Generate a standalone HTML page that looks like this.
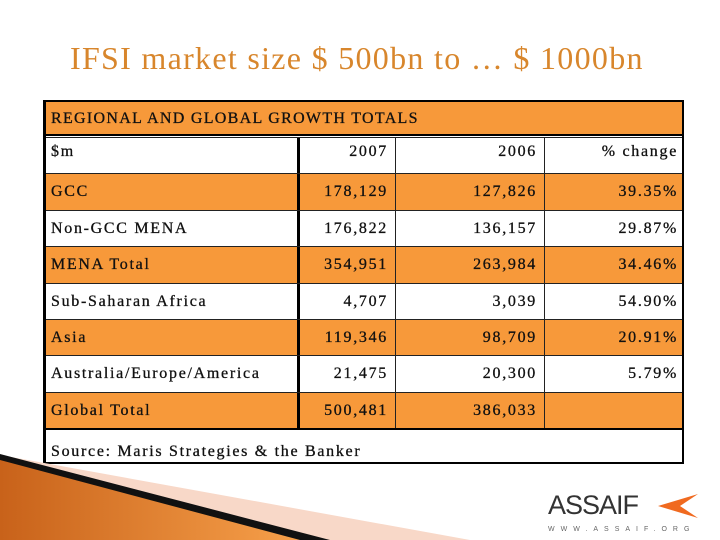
<!DOCTYPE html>
<html><head><meta charset="utf-8">
<style>
body{margin:0;width:720px;height:540px;background:#fff;position:relative;overflow:hidden;font-family:"Liberation Serif","DejaVu Serif",serif;}
#title{position:absolute;left:70px;top:40px;font-size:32px;color:#d8862c;white-space:nowrap;letter-spacing:1.3px;}
#tbl{position:absolute;left:43px;top:100px;width:641px;height:364px;border:2px solid #000;border-left-width:3px;box-sizing:border-box;}
.row{position:absolute;left:0;width:100%;border-top:1px solid #222;box-sizing:border-box;}
.cell{position:absolute;top:0;height:100%;box-sizing:border-box;font-size:16px;color:#111;letter-spacing:1.7px;-webkit-text-stroke:0.3px #111;}
.or{background:#f7993a;}
</style></head><body>
<div id="title">IFSI market size $ 500bn to … $ 1000bn</div>
<div id="tbl"></div>
<svg style="position:absolute;left:0;top:440px" width="470" height="100">
<defs><linearGradient id="g" x1="0" y1="0" x2="1" y2="0"><stop offset="0" stop-color="#c8621a"/><stop offset="1" stop-color="#f7a04a"/></linearGradient></defs>
<polygon points="0,15 0,100 470,100" fill="#f8d8c8"/>
<polygon points="0,14 0,100 330,100" fill="#111"/>
<polygon points="0,20 0,100 300,100" fill="url(#g)"/>
</svg>
<div style="position:absolute;left:548px;top:490px;font-family:'Liberation Sans',sans-serif;font-size:27px;color:#333;letter-spacing:-1px">ASSAIF</div>
<svg style="position:absolute;left:658px;top:494px" width="42" height="24"><polygon points="0,12 40,0 22,12 40,24" fill="#f06a20"/></svg>
<div style="position:absolute;left:548px;top:526px;font-family:'Liberation Sans',sans-serif;font-size:7px;color:#666;letter-spacing:6px">WWW.ASSAIF.ORG</div>
<script>
const rowLabels=["$m","GCC","Non-GCC MENA","MENA Total","Sub-Saharan Africa","Asia","Australia/Europe/America","Global Total"];
const values2007=["2007","178,129","176,822","354,951","4,707","119,346","21,475","500,481"];
const values2006=["2006","127,826","136,157","263,984","3,039","98,709","20,300","386,033"];
const changes=["% change","39.35%","29.87%","34.46%","54.90%","20.91%","5.79%",""];
const orange=[false,true,false,true,false,true,false,true];
const tbl=document.getElementById('tbl');
const cols=[[0,251],[251,349],[349,498],[498,639]];
function mkRow(top,h,cls){const r=document.createElement('div');r.className='row'+(cls?' '+cls:'');r.style.top=top+'px';r.style.height=h+'px';tbl.appendChild(r);return r;}
function mkCell(r,x,w,txt,align,vb){const c=document.createElement('div');c.className='cell';c.style.left=x+'px';c.style.width=w+'px';c.style.textAlign=align;c.style.padding=(align=='left'?'0 0 0 5px':'0 7px 0 0');c.style.lineHeight=r.style.height;if(vb)c.style.borderLeft='1px solid #222';c.textContent=txt;r.appendChild(c);return c;}
const h=mkRow(0,34,'or');h.style.borderTop='none';h.style.borderBottom='2px solid #000';


const hc=mkCell(h,0,620,"REGIONAL AND GLOBAL GROWTH TOTALS",'left');hc.style.letterSpacing='1.3px';
rowLabels.forEach((lab,i)=>{
 const r=mkRow(35+i*36.4,36.4,orange[i]?'or':'');
 
 
 const c0=mkCell(r,cols[0][0],cols[0][1],lab,'left');
 if(i==0){c0.style.lineHeight='normal';c0.style.paddingTop='5px';}
 const c1=mkCell(r,cols[1][0],cols[1][1]-cols[1][0],values2007[i],'right',true);c1.style.borderLeft='3px solid #000';
 mkCell(r,cols[2][0],cols[2][1]-cols[2][0],values2006[i],'right',true);
 mkCell(r,cols[3][0],cols[3][1]-cols[3][0],changes[i],'right',true);
 if(i==0){[...r.children].slice(1).forEach(c=>{c.style.lineHeight='normal';c.style.paddingTop='5px';});}
});
const s=mkRow(35+8*36.4,36,'');s.style.borderTop='2px solid #000';


const sc=mkCell(s,0,620,"Source: Maris Strategies & the Banker",'left');sc.style.lineHeight='normal';sc.style.paddingTop='13px';
</script>
</body></html>
